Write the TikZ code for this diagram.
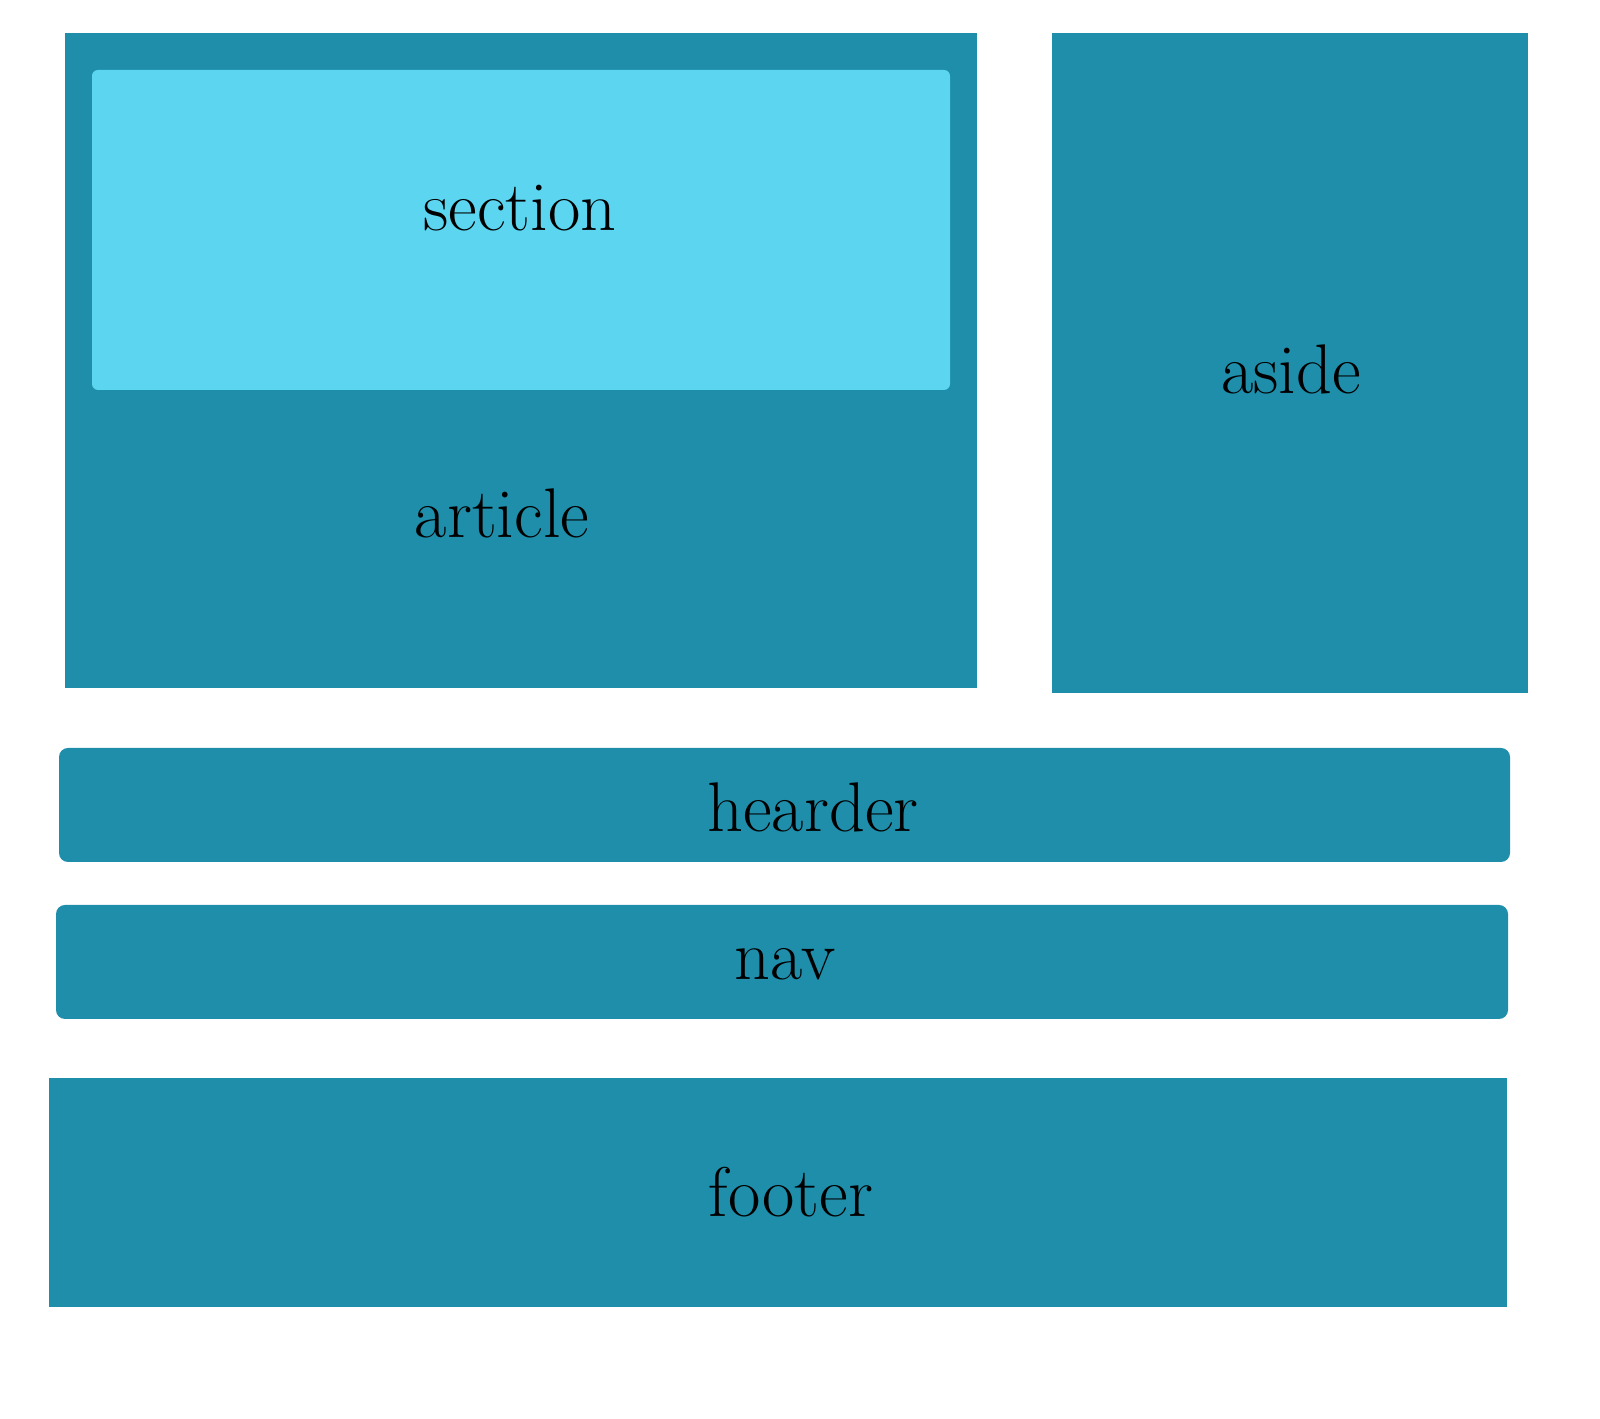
\documentclass[tikz,border=0pt]{standalone}
\usepackage{xcolor}
\usepackage{tikz}
\usetikzlibrary{positioning}
\definecolor{tealbox}{HTML}{1E8EAA}
\definecolor{skybox}{HTML}{5BD5F0}
\newcommand{\blockbox}[6]{%
  \fill[#5, rounded corners=#6] (#1,#3) rectangle (#2,#4);}
\tikzset{
  tag/.style={anchor=base, font=\fontsize{20}{23}\selectfont, text=black, inner sep=0pt}
}
\begin{document}
\begin{tikzpicture}
    \useasboundingbox (0,0) rectangle (16,14.18);
    % upper row
    \blockbox{0.65}{9.77}{7.30}{13.85}{tealbox}{0pt}
    \blockbox{0.92}{9.50}{10.28}{13.48}{skybox}{0.06cm}
    \blockbox{10.52}{15.28}{7.25}{13.85}{tealbox}{0pt}
    \node[tag] (section) at (5.20,11.87) {section};
    \node[tag] (article) at (5.02,8.80) {article};
    \node[tag] (aside) at (12.91,10.24) {aside};
    % bars
    \blockbox{0.59}{15.10}{5.56}{6.70}{tealbox}{0.09cm}
    \node[tag] (hearder) at (8.13,5.86) {hearder};
    \blockbox{0.56}{15.08}{3.99}{5.13}{tealbox}{0.09cm}
    \node[tag] (nav) at (7.85,4.38) {nav};
    \blockbox{0.49}{15.07}{1.11}{3.40}{tealbox}{0pt}
    \node[tag] (footer) at (7.91,2.01) {footer};
\end{tikzpicture}
\end{document}
